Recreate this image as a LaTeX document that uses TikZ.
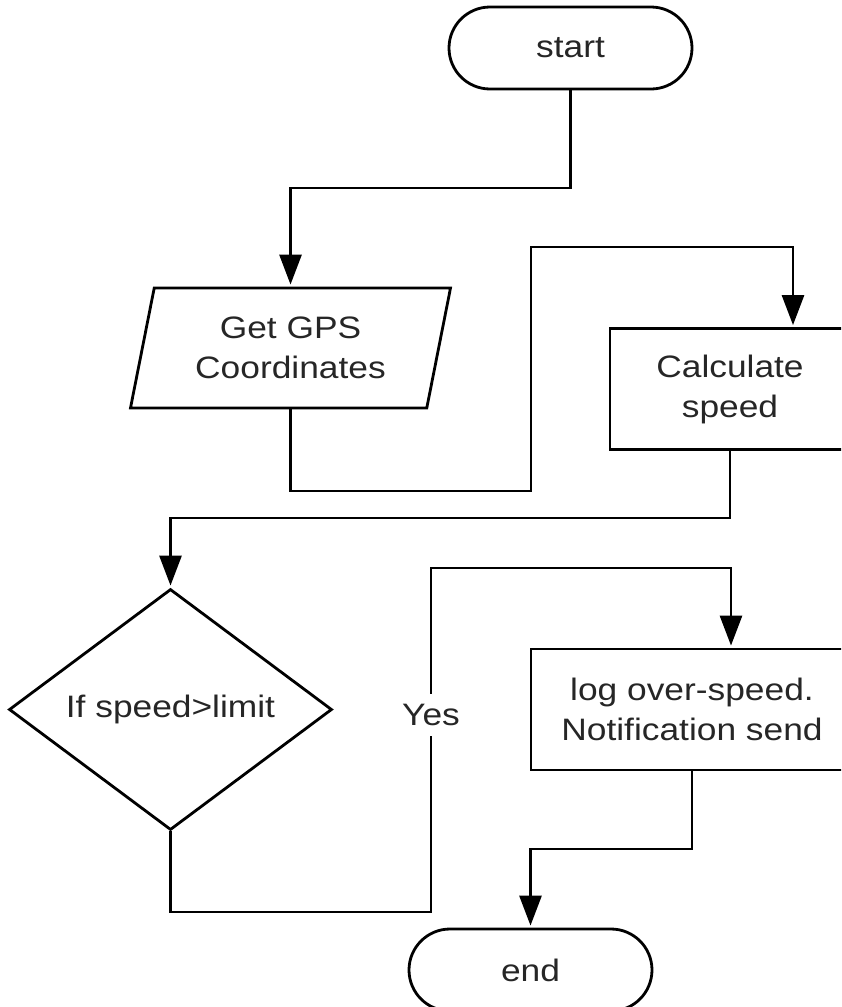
\documentclass[tikz,border=0pt]{standalone}
\usepackage{fontspec}
\setmainfont{Liberation Sans}[FakeStretch=1.14]
\usetikzlibrary{arrows.meta,shapes.geometric,calc}

\begin{document}
\begin{tikzpicture}[x=1pt,y=-1pt,
  every node/.style={font=\fontsize{31}{40}\selectfont, text=black!85, align=center, inner sep=0pt},
  shapeline/.style={draw=black, line width=2.8pt},
  terminal/.style={shapeline, rectangle, rounded corners=41pt, minimum width=243pt, minimum height=82pt},
  process/.style={shapeline, rectangle, minimum width=#1, minimum height=121pt},
  io/.style={shapeline, trapezium, trapezium left angle=75, trapezium right angle=105,
             trapezium stretches=true, minimum width=321pt, minimum height=120pt},
  decision/.style={shapeline, diamond, aspect=1.34, minimum width=323pt, minimum height=241pt},
  flow/.style={line width=2.8pt, -{Triangle[width=22pt,length=30pt]}, shorten >=2pt},
  branch/.style={fill=white, inner xsep=3pt, inner ysep=10pt}
]
\clip (0,0) rectangle (841,1007);

% nodes
\node[terminal] (start) at (570.5,48) {start};
\node[io] (gps) at (290.5,348) {Get GPS\\Coordinates};
\node[process=240pt] (calc) at (730,389) {Calculate\\speed};
\node[decision] (dec) at (170.5,709.5) {\raisebox{4pt}{If speed>limit}};
\node[process=322pt] (log) at (692,709.5) {log over-speed.\\Notification send};
\node[terminal] (end) at (530.5,970) {end};

% routing points
\coordinate (r1) at (430,188);
\coordinate (r2a) at (531,491);
\coordinate (r2b) at (531,247);
\coordinate (r3) at (450,518);
\coordinate (r4a) at (431,912);
\coordinate (r4b) at (431,568);
\coordinate (r5) at (600,849);

% connectors
\draw[flow] (start.south) |- (r1) -| (gps.north);
\draw[flow] (gps.south) |- (r2a) -- (r2b) -| ([xshift=63pt]calc.north);
\draw[flow] (calc.south) |- (r3) -| (dec.north);
\draw[flow] (dec.south) |- (r4a) -- (r4b) -| ([xshift=39pt]log.north);
\draw[flow] (log.south) |- (r5) -| (end.north);

% branch label
\node[branch] (yes) at (431,715) {Yes};
\end{tikzpicture}
\end{document}
